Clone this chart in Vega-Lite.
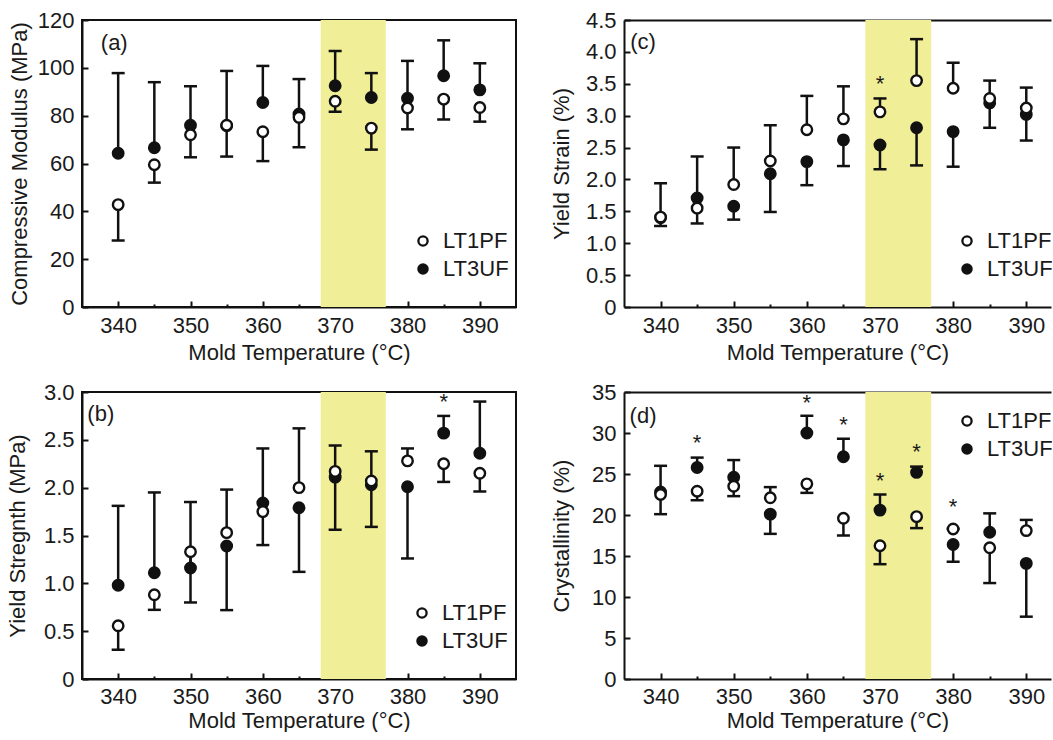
{
  "$schema": "https://vega.github.io/schema/vega-lite/v6.json",
  "background": "white",
  "padding": {"left": 4, "top": 8, "right": 0, "bottom": 0},
  "autosize": {"type": "pad"},
  "columns": 2,
  "spacing": {"row": 85, "column": 108},
  "bounds": "flush",
  "align": "each",
  "resolve": {
    "scale": {"x": "independent", "y": "independent", "fill": "independent"},
    "axis": {"x": "independent", "y": "independent"},
    "legend": {"fill": "independent"}
  },
  "config": {
    "font": "Liberation Sans",
    "view": {"stroke": "#111111", "strokeWidth": 2},
    "axis": {
      "labelFont": "Liberation Sans", "labelFontSize": 22, "labelColor": "#1a1a1a",
      "titleFont": "Liberation Sans", "titleFontSize": 22, "titleFontWeight": "normal", "titleColor": "#1a1a1a",
      "grid": false, "domainColor": "#111111", "domainWidth": 2, "tickColor": "#111111", "tickWidth": 2
    },
    "legend": {
      "labelFont": "Liberation Sans", "labelFontSize": 22, "labelColor": "#1a1a1a",
      "symbolSize": 85, "symbolStrokeWidth": 2.3, "symbolStrokeColor": "#111111", "symbolType": "circle",
      "rowPadding": 6, "labelOffset": 9
    }
  },
  "concat": [
    {
      "width": 434, "height": 287,
      "data": {"values": [
        {"T": 340, "s": "LT3UF", "v": 64.3, "e": 97.8},
        {"T": 345, "s": "LT3UF", "v": 66.6, "e": 94},
        {"T": 350, "s": "LT3UF", "v": 76, "e": 92.3},
        {"T": 355, "s": "LT3UF", "v": 75.8, "e": 98.7},
        {"T": 360, "s": "LT3UF", "v": 85.5, "e": 100.8},
        {"T": 365, "s": "LT3UF", "v": 80.7, "e": 95.3},
        {"T": 370, "s": "LT3UF", "v": 92.5, "e": 107},
        {"T": 375, "s": "LT3UF", "v": 87.6, "e": 97.8},
        {"T": 380, "s": "LT3UF", "v": 87.3, "e": 102.9},
        {"T": 385, "s": "LT3UF", "v": 96.7, "e": 111.5},
        {"T": 390, "s": "LT3UF", "v": 90.8, "e": 101.9},
        {"T": 340, "s": "LT1PF", "v": 42.8, "e": 27.8},
        {"T": 345, "s": "LT1PF", "v": 59.5, "e": 52},
        {"T": 350, "s": "LT1PF", "v": 72, "e": 62.6},
        {"T": 355, "s": "LT1PF", "v": 76, "e": 62.9},
        {"T": 360, "s": "LT1PF", "v": 73.3, "e": 61},
        {"T": 365, "s": "LT1PF", "v": 79.3, "e": 66.8},
        {"T": 370, "s": "LT1PF", "v": 86, "e": 81.6},
        {"T": 375, "s": "LT1PF", "v": 74.8, "e": 65.8},
        {"T": 380, "s": "LT1PF", "v": 83.2, "e": 74.3},
        {"T": 385, "s": "LT1PF", "v": 86.9, "e": 78.4},
        {"T": 390, "s": "LT1PF", "v": 83.4, "e": 77.5}
      ]},
      "layer": [
        {
          "data": {"values": [{"lo": 368, "hi": 377}]},
          "mark": {"type": "rect", "color": "#F0EE96"},
          "encoding": {
            "x": {"field": "lo", "type": "quantitative", "scale": {"domain": [335, 395], "nice": false, "zero": false},
              "axis": {"values": [340,345,350,355,360,365,370,375,380,385,390], "labelExpr": "datum.value % 10 === 0 ? datum.label : ''", "tickSize": {"condition": {"test": "datum.value % 10 === 0", "value": -6}, "value": -3}, "labelPadding": 14, "labelOverlap": false, "title": "Mold Temperature (°C)", "titleBaseline": "alphabetic", "titleY": 52}},
            "x2": {"field": "hi"}
          }
        },
        {
          "mark": {"type": "rule", "color": "#111111", "strokeWidth": 2.5},
          "encoding": {
            "x": {"field": "T", "type": "quantitative", "scale": {"domain": [335, 395], "nice": false, "zero": false},
              "axis": {"values": [340,345,350,355,360,365,370,375,380,385,390], "labelExpr": "datum.value % 10 === 0 ? datum.label : ''", "tickSize": {"condition": {"test": "datum.value % 10 === 0", "value": -6}, "value": -3}, "labelPadding": 14, "labelOverlap": false, "title": "Mold Temperature (°C)", "titleBaseline": "alphabetic", "titleY": 52}},
            "y": {"field": "v", "type": "quantitative", "scale": {"domain": [0, 120], "nice": false},
              "axis": {"values": [0,20,40,60,80,100,120], "tickSize": -6, "labelPadding": 14, "title": "Compressive Modulus (MPa)", "titleX": -51}},
            "y2": {"field": "e"}
          }
        },
        {
          "mark": {"type": "tick", "orient": "horizontal", "color": "#111111", "thickness": 2.5, "size": 13, "opacity": 1},
          "encoding": {
            "x": {"field": "T", "type": "quantitative", "scale": {"domain": [335, 395], "nice": false, "zero": false},
              "axis": {"values": [340,345,350,355,360,365,370,375,380,385,390], "labelExpr": "datum.value % 10 === 0 ? datum.label : ''", "tickSize": {"condition": {"test": "datum.value % 10 === 0", "value": -6}, "value": -3}, "labelPadding": 14, "labelOverlap": false, "title": "Mold Temperature (°C)", "titleBaseline": "alphabetic", "titleY": 52}},
            "y": {"field": "e", "type": "quantitative", "scale": {"domain": [0, 120], "nice": false},
              "axis": {"values": [0,20,40,60,80,100,120], "tickSize": -6, "labelPadding": 14, "title": "Compressive Modulus (MPa)", "titleX": -51}}
          }
        },
        {
          "mark": {"type": "point", "shape": "circle", "filled": true, "stroke": "#111111", "strokeWidth": 2.4, "size": 110, "opacity": 1},
          "encoding": {
            "x": {"field": "T", "type": "quantitative", "scale": {"domain": [335, 395], "nice": false, "zero": false},
              "axis": {"values": [340,345,350,355,360,365,370,375,380,385,390], "labelExpr": "datum.value % 10 === 0 ? datum.label : ''", "tickSize": {"condition": {"test": "datum.value % 10 === 0", "value": -6}, "value": -3}, "labelPadding": 14, "labelOverlap": false, "title": "Mold Temperature (°C)", "titleBaseline": "alphabetic", "titleY": 52}},
            "y": {"field": "v", "type": "quantitative", "scale": {"domain": [0, 120], "nice": false},
              "axis": {"values": [0,20,40,60,80,100,120], "tickSize": -6, "labelPadding": 14, "title": "Compressive Modulus (MPa)", "titleX": -51}},
            "fill": {"field": "s", "type": "nominal", "scale": {"domain": ["LT1PF", "LT3UF"], "range": ["#ffffff", "#111111"]},
              "legend": {"title": null, "orient": "none", "legendX": 330, "legendY": 210}}
          }
        },
        {
          "data": {"values": [{"T": 337.6, "v": 110.4, "t": "(a)"}]},
          "mark": {"type": "text", "align": "left", "baseline": "middle", "fontSize": 22, "color": "#1a1a1a"},
          "encoding": {
            "x": {"field": "T", "type": "quantitative", "scale": {"domain": [335, 395], "nice": false, "zero": false},
              "axis": {"values": [340,345,350,355,360,365,370,375,380,385,390], "labelExpr": "datum.value % 10 === 0 ? datum.label : ''", "tickSize": {"condition": {"test": "datum.value % 10 === 0", "value": -6}, "value": -3}, "labelPadding": 14, "labelOverlap": false, "title": "Mold Temperature (°C)", "titleBaseline": "alphabetic", "titleY": 52}},
            "y": {"field": "v", "type": "quantitative", "scale": {"domain": [0, 120], "nice": false},
              "axis": {"values": [0,20,40,60,80,100,120], "tickSize": -6, "labelPadding": 14, "title": "Compressive Modulus (MPa)", "titleX": -51}},
            "text": {"field": "t"}
          }
        }
      ]
    },
    {
      "width": 427, "height": 287,
      "view": {"stroke": null},
      "data": {"values": [
        {"T": 340, "s": "LT3UF", "v": 1.40, "e": 1.27},
        {"T": 345, "s": "LT3UF", "v": 1.71, "e": 2.36},
        {"T": 350, "s": "LT3UF", "v": 1.58, "e": 1.37},
        {"T": 355, "s": "LT3UF", "v": 2.09, "e": 1.49},
        {"T": 360, "s": "LT3UF", "v": 2.28, "e": 1.91},
        {"T": 365, "s": "LT3UF", "v": 2.62, "e": 2.21},
        {"T": 370, "s": "LT3UF", "v": 2.54, "e": 2.16},
        {"T": 375, "s": "LT3UF", "v": 2.81, "e": 2.22},
        {"T": 380, "s": "LT3UF", "v": 2.75, "e": 2.20},
        {"T": 385, "s": "LT3UF", "v": 3.20, "e": 2.81},
        {"T": 390, "s": "LT3UF", "v": 3.02, "e": 2.61},
        {"T": 340, "s": "LT1PF", "v": 1.41, "e": 1.94},
        {"T": 345, "s": "LT1PF", "v": 1.55, "e": 1.31},
        {"T": 350, "s": "LT1PF", "v": 1.92, "e": 2.50},
        {"T": 355, "s": "LT1PF", "v": 2.29, "e": 2.85},
        {"T": 360, "s": "LT1PF", "v": 2.78, "e": 3.31},
        {"T": 365, "s": "LT1PF", "v": 2.95, "e": 3.46},
        {"T": 370, "s": "LT1PF", "v": 3.06, "e": 3.27},
        {"T": 375, "s": "LT1PF", "v": 3.55, "e": 4.20},
        {"T": 380, "s": "LT1PF", "v": 3.43, "e": 3.83},
        {"T": 385, "s": "LT1PF", "v": 3.27, "e": 3.55},
        {"T": 390, "s": "LT1PF", "v": 3.12, "e": 3.44}
      ]},
      "layer": [
        {
          "data": {"values": [{"lo": 368, "hi": 377}]},
          "mark": {"type": "rect", "color": "#F0EE96"},
          "encoding": {
            "x": {"field": "lo", "type": "quantitative", "scale": {"domain": [335, 393.38], "nice": false, "zero": false},
              "axis": {"values": [340,345,350,355,360,365,370,375,380,385,390], "labelExpr": "datum.value % 10 === 0 ? datum.label : ''", "tickSize": {"condition": {"test": "datum.value % 10 === 0", "value": -6}, "value": -3}, "labelPadding": 14, "labelOverlap": false, "title": "Mold Temperature (°C)", "titleBaseline": "alphabetic", "titleY": 52}},
            "x2": {"field": "hi"}
          }
        },
        {
          "mark": {"type": "rule", "color": "#111111", "strokeWidth": 2.5},
          "encoding": {
            "x": {"field": "T", "type": "quantitative", "scale": {"domain": [335, 393.38], "nice": false, "zero": false},
              "axis": {"values": [340,345,350,355,360,365,370,375,380,385,390], "labelExpr": "datum.value % 10 === 0 ? datum.label : ''", "tickSize": {"condition": {"test": "datum.value % 10 === 0", "value": -6}, "value": -3}, "labelPadding": 14, "labelOverlap": false, "title": "Mold Temperature (°C)", "titleBaseline": "alphabetic", "titleY": 52}},
            "y": {"field": "v", "type": "quantitative", "scale": {"domain": [0, 4.5], "nice": false},
              "axis": {"values": [0,0.5,1,1.5,2,2.5,3,3.5,4,4.5], "labelExpr": "datum.value === 0 ? '0' : format(datum.value, '.1f')", "tickSize": -6, "labelPadding": 14, "title": "Yield Strain (%)", "titleX": -51, "grid": true, "gridColor": {"condition": {"test": "datum.value === 4.5", "value": "#111111"}, "value": "transparent"}, "gridWidth": 2}},
            "y2": {"field": "e"}
          }
        },
        {
          "mark": {"type": "tick", "orient": "horizontal", "color": "#111111", "thickness": 2.5, "size": 13, "opacity": 1},
          "encoding": {
            "x": {"field": "T", "type": "quantitative", "scale": {"domain": [335, 393.38], "nice": false, "zero": false},
              "axis": {"values": [340,345,350,355,360,365,370,375,380,385,390], "labelExpr": "datum.value % 10 === 0 ? datum.label : ''", "tickSize": {"condition": {"test": "datum.value % 10 === 0", "value": -6}, "value": -3}, "labelPadding": 14, "labelOverlap": false, "title": "Mold Temperature (°C)", "titleBaseline": "alphabetic", "titleY": 52}},
            "y": {"field": "e", "type": "quantitative", "scale": {"domain": [0, 4.5], "nice": false},
              "axis": {"values": [0,0.5,1,1.5,2,2.5,3,3.5,4,4.5], "labelExpr": "datum.value === 0 ? '0' : format(datum.value, '.1f')", "tickSize": -6, "labelPadding": 14, "title": "Yield Strain (%)", "titleX": -51, "grid": true, "gridColor": {"condition": {"test": "datum.value === 4.5", "value": "#111111"}, "value": "transparent"}, "gridWidth": 2}}
          }
        },
        {
          "mark": {"type": "point", "shape": "circle", "filled": true, "stroke": "#111111", "strokeWidth": 2.4, "size": 110, "opacity": 1},
          "encoding": {
            "x": {"field": "T", "type": "quantitative", "scale": {"domain": [335, 393.38], "nice": false, "zero": false},
              "axis": {"values": [340,345,350,355,360,365,370,375,380,385,390], "labelExpr": "datum.value % 10 === 0 ? datum.label : ''", "tickSize": {"condition": {"test": "datum.value % 10 === 0", "value": -6}, "value": -3}, "labelPadding": 14, "labelOverlap": false, "title": "Mold Temperature (°C)", "titleBaseline": "alphabetic", "titleY": 52}},
            "y": {"field": "v", "type": "quantitative", "scale": {"domain": [0, 4.5], "nice": false},
              "axis": {"values": [0,0.5,1,1.5,2,2.5,3,3.5,4,4.5], "labelExpr": "datum.value === 0 ? '0' : format(datum.value, '.1f')", "tickSize": -6, "labelPadding": 14, "title": "Yield Strain (%)", "titleX": -51, "grid": true, "gridColor": {"condition": {"test": "datum.value === 4.5", "value": "#111111"}, "value": "transparent"}, "gridWidth": 2}},
            "fill": {"field": "s", "type": "nominal", "scale": {"domain": ["LT1PF", "LT3UF"], "range": ["#ffffff", "#111111"]},
              "legend": {"title": null, "orient": "none", "legendX": 332, "legendY": 210}}
          }
        },
        {
          "data": {"values": [{"T": 337.6, "v": 4.155, "t": "(c)", "k": "label"}, {"T": 370, "v": 3.49, "t": "*", "k": "star"}]},
          "mark": {"type": "text", "baseline": "middle", "fontSize": 22, "color": "#1a1a1a"},
          "encoding": {
            "x": {"field": "T", "type": "quantitative", "scale": {"domain": [335, 393.38], "nice": false, "zero": false},
              "axis": {"values": [340,345,350,355,360,365,370,375,380,385,390], "labelExpr": "datum.value % 10 === 0 ? datum.label : ''", "tickSize": {"condition": {"test": "datum.value % 10 === 0", "value": -6}, "value": -3}, "labelPadding": 14, "labelOverlap": false, "title": "Mold Temperature (°C)", "titleBaseline": "alphabetic", "titleY": 52}},
            "y": {"field": "v", "type": "quantitative", "scale": {"domain": [0, 4.5], "nice": false},
              "axis": {"values": [0,0.5,1,1.5,2,2.5,3,3.5,4,4.5], "labelExpr": "datum.value === 0 ? '0' : format(datum.value, '.1f')", "tickSize": -6, "labelPadding": 14, "title": "Yield Strain (%)", "titleX": -51, "grid": true, "gridColor": {"condition": {"test": "datum.value === 4.5", "value": "#111111"}, "value": "transparent"}, "gridWidth": 2}},
            "text": {"field": "t"},
            "align": {"condition": {"test": "datum.k === 'label'", "value": "left"}, "value": "center"},
            "yOffset": {"condition": {"test": "datum.k === 'star'", "value": 7}, "value": 0}
          }
        }
      ]
    },
    {
      "width": 434, "height": 287,
      "data": {"values": [
        {"T": 340, "s": "LT3UF", "v": 0.98, "e": 1.81},
        {"T": 345, "s": "LT3UF", "v": 1.11, "e": 1.95},
        {"T": 350, "s": "LT3UF", "v": 1.16, "e": 1.85},
        {"T": 355, "s": "LT3UF", "v": 1.39, "e": 0.72},
        {"T": 360, "s": "LT3UF", "v": 1.84, "e": 2.41},
        {"T": 365, "s": "LT3UF", "v": 1.79, "e": 1.12},
        {"T": 370, "s": "LT3UF", "v": 2.11, "e": 1.56},
        {"T": 375, "s": "LT3UF", "v": 2.03, "e": 1.59},
        {"T": 380, "s": "LT3UF", "v": 2.01, "e": 1.26},
        {"T": 385, "s": "LT3UF", "v": 2.57, "e": 2.75},
        {"T": 390, "s": "LT3UF", "v": 2.36, "e": 2.90},
        {"T": 340, "s": "LT1PF", "v": 0.556, "e": 0.306},
        {"T": 345, "s": "LT1PF", "v": 0.88, "e": 0.723},
        {"T": 350, "s": "LT1PF", "v": 1.33, "e": 0.80},
        {"T": 355, "s": "LT1PF", "v": 1.53, "e": 1.98},
        {"T": 360, "s": "LT1PF", "v": 1.75, "e": 1.40},
        {"T": 365, "s": "LT1PF", "v": 2.0, "e": 2.62},
        {"T": 370, "s": "LT1PF", "v": 2.17, "e": 2.44},
        {"T": 375, "s": "LT1PF", "v": 2.07, "e": 2.38},
        {"T": 380, "s": "LT1PF", "v": 2.28, "e": 2.41},
        {"T": 385, "s": "LT1PF", "v": 2.25, "e": 2.06},
        {"T": 390, "s": "LT1PF", "v": 2.15, "e": 1.96}
      ]},
      "layer": [
        {
          "data": {"values": [{"lo": 368, "hi": 377}]},
          "mark": {"type": "rect", "color": "#F0EE96"},
          "encoding": {
            "x": {"field": "lo", "type": "quantitative", "scale": {"domain": [335, 395], "nice": false, "zero": false},
              "axis": {"values": [340,345,350,355,360,365,370,375,380,385,390], "labelExpr": "datum.value % 10 === 0 ? datum.label : ''", "tickSize": {"condition": {"test": "datum.value % 10 === 0", "value": -6}, "value": -3}, "labelPadding": 13, "labelOverlap": false, "title": "Mold Temperature (°C)", "titleBaseline": "alphabetic", "titleY": 48}},
            "x2": {"field": "hi"}
          }
        },
        {
          "mark": {"type": "rule", "color": "#111111", "strokeWidth": 2.5},
          "encoding": {
            "x": {"field": "T", "type": "quantitative", "scale": {"domain": [335, 395], "nice": false, "zero": false},
              "axis": {"values": [340,345,350,355,360,365,370,375,380,385,390], "labelExpr": "datum.value % 10 === 0 ? datum.label : ''", "tickSize": {"condition": {"test": "datum.value % 10 === 0", "value": -6}, "value": -3}, "labelPadding": 13, "labelOverlap": false, "title": "Mold Temperature (°C)", "titleBaseline": "alphabetic", "titleY": 48}},
            "y": {"field": "v", "type": "quantitative", "scale": {"domain": [0, 3], "nice": false},
              "axis": {"values": [0,0.5,1,1.5,2,2.5,3], "labelExpr": "datum.value === 0 ? '0' : format(datum.value, '.1f')", "tickSize": -6, "labelPadding": 14, "title": "Yield Stregnth (MPa)", "titleX": -53}},
            "y2": {"field": "e"}
          }
        },
        {
          "mark": {"type": "tick", "orient": "horizontal", "color": "#111111", "thickness": 2.5, "size": 13, "opacity": 1},
          "encoding": {
            "x": {"field": "T", "type": "quantitative", "scale": {"domain": [335, 395], "nice": false, "zero": false},
              "axis": {"values": [340,345,350,355,360,365,370,375,380,385,390], "labelExpr": "datum.value % 10 === 0 ? datum.label : ''", "tickSize": {"condition": {"test": "datum.value % 10 === 0", "value": -6}, "value": -3}, "labelPadding": 13, "labelOverlap": false, "title": "Mold Temperature (°C)", "titleBaseline": "alphabetic", "titleY": 48}},
            "y": {"field": "e", "type": "quantitative", "scale": {"domain": [0, 3], "nice": false},
              "axis": {"values": [0,0.5,1,1.5,2,2.5,3], "labelExpr": "datum.value === 0 ? '0' : format(datum.value, '.1f')", "tickSize": -6, "labelPadding": 14, "title": "Yield Stregnth (MPa)", "titleX": -53}}
          }
        },
        {
          "mark": {"type": "point", "shape": "circle", "filled": true, "stroke": "#111111", "strokeWidth": 2.4, "size": 110, "opacity": 1},
          "encoding": {
            "x": {"field": "T", "type": "quantitative", "scale": {"domain": [335, 395], "nice": false, "zero": false},
              "axis": {"values": [340,345,350,355,360,365,370,375,380,385,390], "labelExpr": "datum.value % 10 === 0 ? datum.label : ''", "tickSize": {"condition": {"test": "datum.value % 10 === 0", "value": -6}, "value": -3}, "labelPadding": 13, "labelOverlap": false, "title": "Mold Temperature (°C)", "titleBaseline": "alphabetic", "titleY": 48}},
            "y": {"field": "v", "type": "quantitative", "scale": {"domain": [0, 3], "nice": false},
              "axis": {"values": [0,0.5,1,1.5,2,2.5,3], "labelExpr": "datum.value === 0 ? '0' : format(datum.value, '.1f')", "tickSize": -6, "labelPadding": 14, "title": "Yield Stregnth (MPa)", "titleX": -53}},
            "fill": {"field": "s", "type": "nominal", "scale": {"domain": ["LT1PF", "LT3UF"], "range": ["#ffffff", "#111111"]},
              "legend": {"title": null, "orient": "none", "legendX": 329, "legendY": 210}}
          }
        },
        {
          "data": {"values": [{"T": 337.6, "v": 2.77, "t": "(b)", "k": "label"}, {"T": 385, "v": 2.90, "t": "*", "k": "star"}]},
          "mark": {"type": "text", "baseline": "middle", "fontSize": 22, "color": "#1a1a1a"},
          "encoding": {
            "x": {"field": "T", "type": "quantitative", "scale": {"domain": [335, 395], "nice": false, "zero": false},
              "axis": {"values": [340,345,350,355,360,365,370,375,380,385,390], "labelExpr": "datum.value % 10 === 0 ? datum.label : ''", "tickSize": {"condition": {"test": "datum.value % 10 === 0", "value": -6}, "value": -3}, "labelPadding": 13, "labelOverlap": false, "title": "Mold Temperature (°C)", "titleBaseline": "alphabetic", "titleY": 48}},
            "y": {"field": "v", "type": "quantitative", "scale": {"domain": [0, 3], "nice": false},
              "axis": {"values": [0,0.5,1,1.5,2,2.5,3], "labelExpr": "datum.value === 0 ? '0' : format(datum.value, '.1f')", "tickSize": -6, "labelPadding": 14, "title": "Yield Stregnth (MPa)", "titleX": -53}},
            "text": {"field": "t"},
            "align": {"condition": {"test": "datum.k === 'label'", "value": "left"}, "value": "center"},
            "yOffset": {"condition": {"test": "datum.k === 'star'", "value": 7}, "value": 0}
          }
        }
      ]
    },
    {
      "width": 427, "height": 287,
      "view": {"stroke": null},
      "data": {"values": [
        {"T": 340, "s": "LT3UF", "v": 22.8, "e": 26.0},
        {"T": 345, "s": "LT3UF", "v": 25.8, "e": 27.0},
        {"T": 350, "s": "LT3UF", "v": 24.6, "e": 26.7},
        {"T": 355, "s": "LT3UF", "v": 20.1, "e": 17.7},
        {"T": 360, "s": "LT3UF", "v": 30.0, "e": 32.1},
        {"T": 365, "s": "LT3UF", "v": 27.1, "e": 29.3},
        {"T": 370, "s": "LT3UF", "v": 20.6, "e": 22.5},
        {"T": 375, "s": "LT3UF", "v": 25.2, "e": 25.9},
        {"T": 380, "s": "LT3UF", "v": 16.4, "e": 14.3},
        {"T": 385, "s": "LT3UF", "v": 17.9, "e": 20.2},
        {"T": 390, "s": "LT3UF", "v": 14.1, "e": 7.6},
        {"T": 340, "s": "LT1PF", "v": 22.5, "e": 20.1},
        {"T": 345, "s": "LT1PF", "v": 22.9, "e": 21.8},
        {"T": 350, "s": "LT1PF", "v": 23.5, "e": 22.3},
        {"T": 355, "s": "LT1PF", "v": 22.1, "e": 23.4},
        {"T": 360, "s": "LT1PF", "v": 23.8, "e": 22.7},
        {"T": 365, "s": "LT1PF", "v": 19.6, "e": 17.5},
        {"T": 370, "s": "LT1PF", "v": 16.25, "e": 14.0},
        {"T": 375, "s": "LT1PF", "v": 19.8, "e": 18.4},
        {"T": 380, "s": "LT1PF", "v": 18.3, "e": 18.3},
        {"T": 385, "s": "LT1PF", "v": 16.0, "e": 11.7},
        {"T": 390, "s": "LT1PF", "v": 18.1, "e": 19.4}
      ]},
      "layer": [
        {
          "data": {"values": [{"lo": 368, "hi": 377}]},
          "mark": {"type": "rect", "color": "#F0EE96"},
          "encoding": {
            "x": {"field": "lo", "type": "quantitative", "scale": {"domain": [335, 393.38], "nice": false, "zero": false},
              "axis": {"values": [340,345,350,355,360,365,370,375,380,385,390], "labelExpr": "datum.value % 10 === 0 ? datum.label : ''", "tickSize": {"condition": {"test": "datum.value % 10 === 0", "value": -6}, "value": -3}, "labelPadding": 13, "labelOverlap": false, "title": "Mold Temperature (°C)", "titleBaseline": "alphabetic", "titleY": 48}},
            "x2": {"field": "hi"}
          }
        },
        {
          "mark": {"type": "rule", "color": "#111111", "strokeWidth": 2.5},
          "encoding": {
            "x": {"field": "T", "type": "quantitative", "scale": {"domain": [335, 393.38], "nice": false, "zero": false},
              "axis": {"values": [340,345,350,355,360,365,370,375,380,385,390], "labelExpr": "datum.value % 10 === 0 ? datum.label : ''", "tickSize": {"condition": {"test": "datum.value % 10 === 0", "value": -6}, "value": -3}, "labelPadding": 13, "labelOverlap": false, "title": "Mold Temperature (°C)", "titleBaseline": "alphabetic", "titleY": 48}},
            "y": {"field": "v", "type": "quantitative", "scale": {"domain": [0, 35], "nice": false},
              "axis": {"values": [0,5,10,15,20,25,30,35], "tickSize": -6, "labelPadding": 14, "title": "Crystallinity (%)", "titleX": -51, "grid": true, "gridColor": {"condition": {"test": "datum.value === 35", "value": "#111111"}, "value": "transparent"}, "gridWidth": 2}},
            "y2": {"field": "e"}
          }
        },
        {
          "mark": {"type": "tick", "orient": "horizontal", "color": "#111111", "thickness": 2.5, "size": 13, "opacity": 1},
          "encoding": {
            "x": {"field": "T", "type": "quantitative", "scale": {"domain": [335, 393.38], "nice": false, "zero": false},
              "axis": {"values": [340,345,350,355,360,365,370,375,380,385,390], "labelExpr": "datum.value % 10 === 0 ? datum.label : ''", "tickSize": {"condition": {"test": "datum.value % 10 === 0", "value": -6}, "value": -3}, "labelPadding": 13, "labelOverlap": false, "title": "Mold Temperature (°C)", "titleBaseline": "alphabetic", "titleY": 48}},
            "y": {"field": "e", "type": "quantitative", "scale": {"domain": [0, 35], "nice": false},
              "axis": {"values": [0,5,10,15,20,25,30,35], "tickSize": -6, "labelPadding": 14, "title": "Crystallinity (%)", "titleX": -51, "grid": true, "gridColor": {"condition": {"test": "datum.value === 35", "value": "#111111"}, "value": "transparent"}, "gridWidth": 2}}
          }
        },
        {
          "mark": {"type": "point", "shape": "circle", "filled": true, "stroke": "#111111", "strokeWidth": 2.4, "size": 110, "opacity": 1},
          "encoding": {
            "x": {"field": "T", "type": "quantitative", "scale": {"domain": [335, 393.38], "nice": false, "zero": false},
              "axis": {"values": [340,345,350,355,360,365,370,375,380,385,390], "labelExpr": "datum.value % 10 === 0 ? datum.label : ''", "tickSize": {"condition": {"test": "datum.value % 10 === 0", "value": -6}, "value": -3}, "labelPadding": 13, "labelOverlap": false, "title": "Mold Temperature (°C)", "titleBaseline": "alphabetic", "titleY": 48}},
            "y": {"field": "v", "type": "quantitative", "scale": {"domain": [0, 35], "nice": false},
              "axis": {"values": [0,5,10,15,20,25,30,35], "tickSize": -6, "labelPadding": 14, "title": "Crystallinity (%)", "titleX": -51, "grid": true, "gridColor": {"condition": {"test": "datum.value === 35", "value": "#111111"}, "value": "transparent"}, "gridWidth": 2}},
            "fill": {"field": "s", "type": "nominal", "scale": {"domain": ["LT1PF", "LT3UF"], "range": ["#ffffff", "#111111"]},
              "legend": {"title": null, "orient": "none", "legendX": 332, "legendY": 18}}
          }
        },
        {
          "data": {"values": [
            {"T": 337.6, "v": 32.1, "t": "(d)", "k": "label"},
            {"T": 345, "v": 28.8, "t": "*", "k": "star"},
            {"T": 360, "v": 33.7, "t": "*", "k": "star"},
            {"T": 365, "v": 31.0, "t": "*", "k": "star"},
            {"T": 370, "v": 24.2, "t": "*", "k": "star"},
            {"T": 375, "v": 27.7, "t": "*", "k": "star"},
            {"T": 380, "v": 21.0, "t": "*", "k": "star"}
          ]},
          "mark": {"type": "text", "baseline": "middle", "fontSize": 22, "color": "#1a1a1a"},
          "encoding": {
            "x": {"field": "T", "type": "quantitative", "scale": {"domain": [335, 393.38], "nice": false, "zero": false},
              "axis": {"values": [340,345,350,355,360,365,370,375,380,385,390], "labelExpr": "datum.value % 10 === 0 ? datum.label : ''", "tickSize": {"condition": {"test": "datum.value % 10 === 0", "value": -6}, "value": -3}, "labelPadding": 13, "labelOverlap": false, "title": "Mold Temperature (°C)", "titleBaseline": "alphabetic", "titleY": 48}},
            "y": {"field": "v", "type": "quantitative", "scale": {"domain": [0, 35], "nice": false},
              "axis": {"values": [0,5,10,15,20,25,30,35], "tickSize": -6, "labelPadding": 14, "title": "Crystallinity (%)", "titleX": -51, "grid": true, "gridColor": {"condition": {"test": "datum.value === 35", "value": "#111111"}, "value": "transparent"}, "gridWidth": 2}},
            "text": {"field": "t"},
            "align": {"condition": {"test": "datum.k === 'label'", "value": "left"}, "value": "center"},
            "yOffset": {"condition": {"test": "datum.k === 'star'", "value": 7}, "value": 0}
          }
        }
      ]
    }
  ]
}
